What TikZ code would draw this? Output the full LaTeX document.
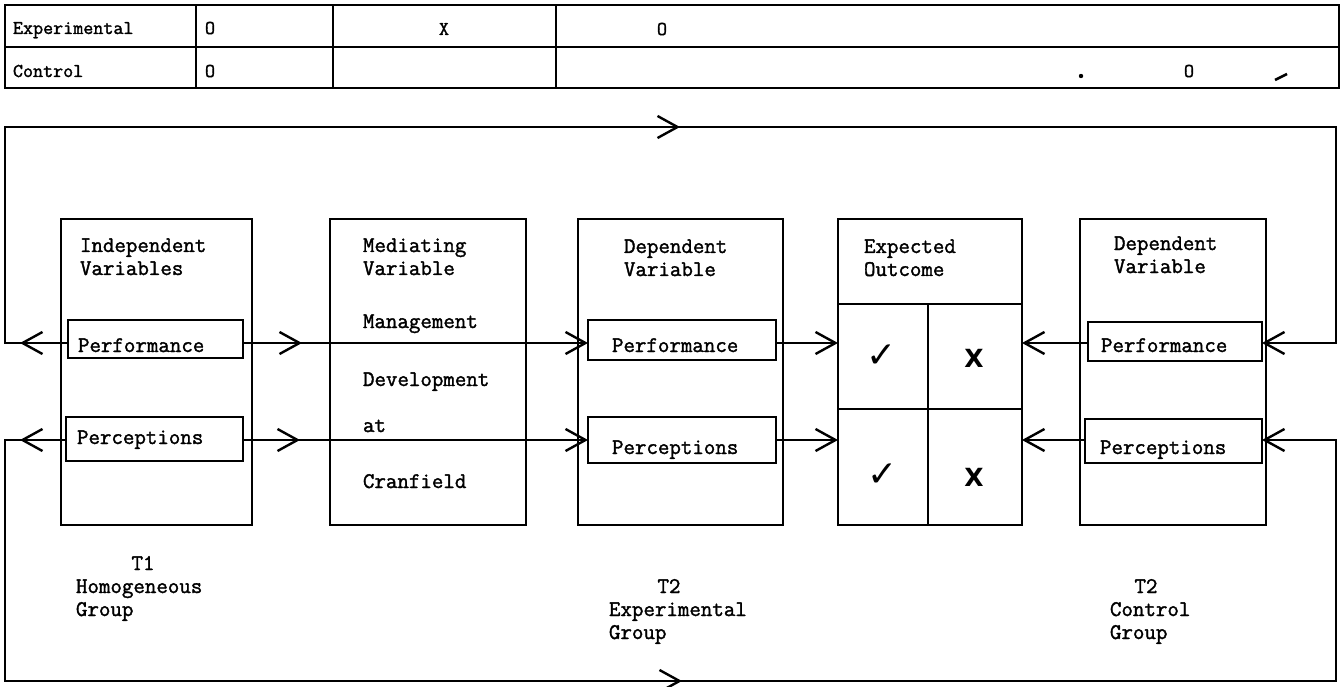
\documentclass[tikz,border=0pt]{standalone}
\usepackage{fontspec}
\newfontfamily\markfont{DejaVu Sans}
\newfontfamily\typefont{Latin Modern Mono}[FakeBold=1.6]
\usetikzlibrary{arrows.meta,decorations.markings}

\begin{document}
\begin{tikzpicture}[x=1pt,y=-1pt,
  every node/.style={inner sep=0pt, outer sep=0pt},
  frame/.style={draw, line width=2.6pt},
  bigbox/.style={frame, anchor=north west, minimum height=306},
  subbox/.style={draw, line width=2.4pt},
  txt/.style={font=\typefont\fontsize{22.3}{23}\selectfont, align=left, anchor=base west},
  tabtxt/.style={font=\typefont\fontsize{19.5}{21}\selectfont, anchor=base west},
  tick/.style={font=\markfont\fontsize{36}{38}\selectfont},
  cross/.style={font=\markfont\bfseries\fontsize{25}{27}\selectfont},
  link/.style={line width=2.4pt},
  head/.style={-{Straight Barb[length=20pt,width=22pt]}},
  barbs/.style={postaction={decorate, decoration={markings,
      mark=at position #1 with {\arrow{Straight Barb[length=20pt,width=22pt]}}}}},
]
\useasboundingbox (0,0) rectangle (1342,687);

% ---------- design table ----------
\draw[frame] (5,5) rectangle (1339,88);
\draw[frame] (5,47) -- (1339,47);
\draw[frame] (196,5) -- (196,88);
\draw[frame] (333,5) -- (333,88);
\draw[frame] (556,5) -- (556,88);
\node[tabtxt] (rowE) at (13,34) {Experimental};
\node[tabtxt] (rowC) at (13,77) {Control};
\node[tabtxt] (eO1) at (205,34) {O};
\node[tabtxt, anchor=base] (eX) at (444,35) {X};
\node[tabtxt, anchor=base] (eO2) at (662,35) {O};
\node[tabtxt] (cO1) at (205,77) {O};
\node[tabtxt, anchor=base] (cO2) at (1189,77) {O};
\fill (1081,76) circle (2.2);
\draw[line width=2.6pt] (1275,80) -- (1287,74);

% ---------- main boxes ----------
\node[bigbox, minimum width=191] (ind) at (61,219) {};
\node[bigbox, minimum width=196] (med) at (330,219) {};
\node[bigbox, minimum width=205] (dep) at (578,219) {};
\node[bigbox, minimum width=184] (exp) at (838,219) {};
\node[bigbox, minimum width=186] (rdep) at (1080,219) {};

% expected outcome grid
\coordinate (divA) at (0,304);
\coordinate (divB) at (0,409);
\coordinate (midx) at (928,0);
\draw[frame] (exp.west |- divA) -- (exp.east |- divA);
\draw[frame] (exp.west |- divB) -- (exp.east |- divB);
\draw[frame] (midx |- divA) -- (midx |- exp.south);

% ---------- inner variable boxes ----------
\node[subbox, minimum width=175, minimum height=38] (ip) at (155.5,339) {};
\node[subbox, minimum width=177, minimum height=44] (ic) at (154.5,439) {};
\node[subbox, minimum width=188, minimum height=40] (dp) at (682,340) {};
\node[subbox, minimum width=188, minimum height=46] (dc) at (682,440) {};
\node[subbox, minimum width=174, minimum height=39] (rp) at (1175,341.5) {};
\node[subbox, minimum width=177, minimum height=44] (rc) at (1173.5,441) {};

% ---------- texts (two-line nodes sit on the baseline of their last line) ----------
\node[txt] (indT) at (80,275) {Independent\\Variables};
\node[txt] (medT) at (363,275) {Mediating\\Variable};
\node[txt] (medA) at (363,328) {Management};
\node[txt] (medB) at (363,386) {Development};
\node[txt] (medC) at (363,432) {at};
\node[txt] (medD) at (363,488) {Cranfield};
\node[txt] (depT) at (624,276) {Dependent\\Variable};
\node[txt] (expT) at (864,276) {Expected\\Outcome};
\node[txt] (rdepT) at (1114,273) {Dependent\\Variable};

\node[txt] (ipT) at (78,352) {Performance};
\node[txt] (icT) at (77,444) {Perceptions};
\node[txt] (dpT) at (612,352) {Performance};
\node[txt] (dcT) at (612,454) {Perceptions};
\node[txt] (rpT) at (1101,352) {Performance};
\node[txt] (rcT) at (1100,454) {Perceptions};

\node[tick] (okA) at (882,356) {✓};
\node[tick] (okB) at (883,475) {✓};
\node[cross] (noA) at (974,358) {X};
\node[cross] (noB) at (974,477) {X};

\node[txt, anchor=base] (t1) at (143,570) {T1};
\node[txt] (t1b) at (76,616) {Homogeneous\\Group};
\node[txt, anchor=base] (t2) at (669,593) {T2};
\node[txt] (t2b) at (609,639) {Experimental\\Group};
\node[txt, anchor=base] (t3) at (1146,593) {T2};
\node[txt] (t3b) at (1110,639) {Control\\Group};

% ---------- connectors ----------
\coordinate (rowP) at (0,343);
\coordinate (rowQ) at (0,440);
\coordinate (topL) at (5,127);
\coordinate (topR) at (1336,127);
\coordinate (botL) at (5,681);
\coordinate (botR) at (1336,681);

% independent -> dependent, through the mediating variable
\draw[link, head, barbs=59pt] (ip.east |- rowP) -- (dp.west |- rowP);
\draw[link, head, barbs=57pt] (ic.east |- rowQ) -- (dc.west |- rowQ);

% dependent variables -> expected outcome
\draw[link, head] (dp.east |- rowP) -- (exp.west |- rowP);
\draw[link, head] (dc.east |- rowQ) -- (exp.west |- rowQ);
\draw[link, head] (rp.west |- rowP) -- (exp.east |- rowP);
\draw[link, head] (rc.west |- rowQ) -- (exp.east |- rowQ);

% feedback loops round the whole design
\draw[link, head, postaction={decorate, decoration={markings,
      mark=at position 48pt with {\arrow{Straight Barb[length=20pt,width=22pt]}},
      mark=at position 954pt with {\arrow{Straight Barb[length=20pt,width=22pt]}}}}]
  (ip.west |- rowP) -- (topL |- rowP) -- (topL) -- (topR) -- (topR |- rowP) -- (rp.east |- rowP);
\draw[link, head, postaction={decorate, decoration={markings,
      mark=at position 46pt with {\arrow{Straight Barb[length=20pt,width=22pt]}},
      mark=at position 979pt with {\arrow{Straight Barb[length=20pt,width=22pt]}}}}]
  (ic.west |- rowQ) -- (botL |- rowQ) -- (botL) -- (botR) -- (botR |- rowQ) -- (rc.east |- rowQ);
\end{tikzpicture}
\end{document}
